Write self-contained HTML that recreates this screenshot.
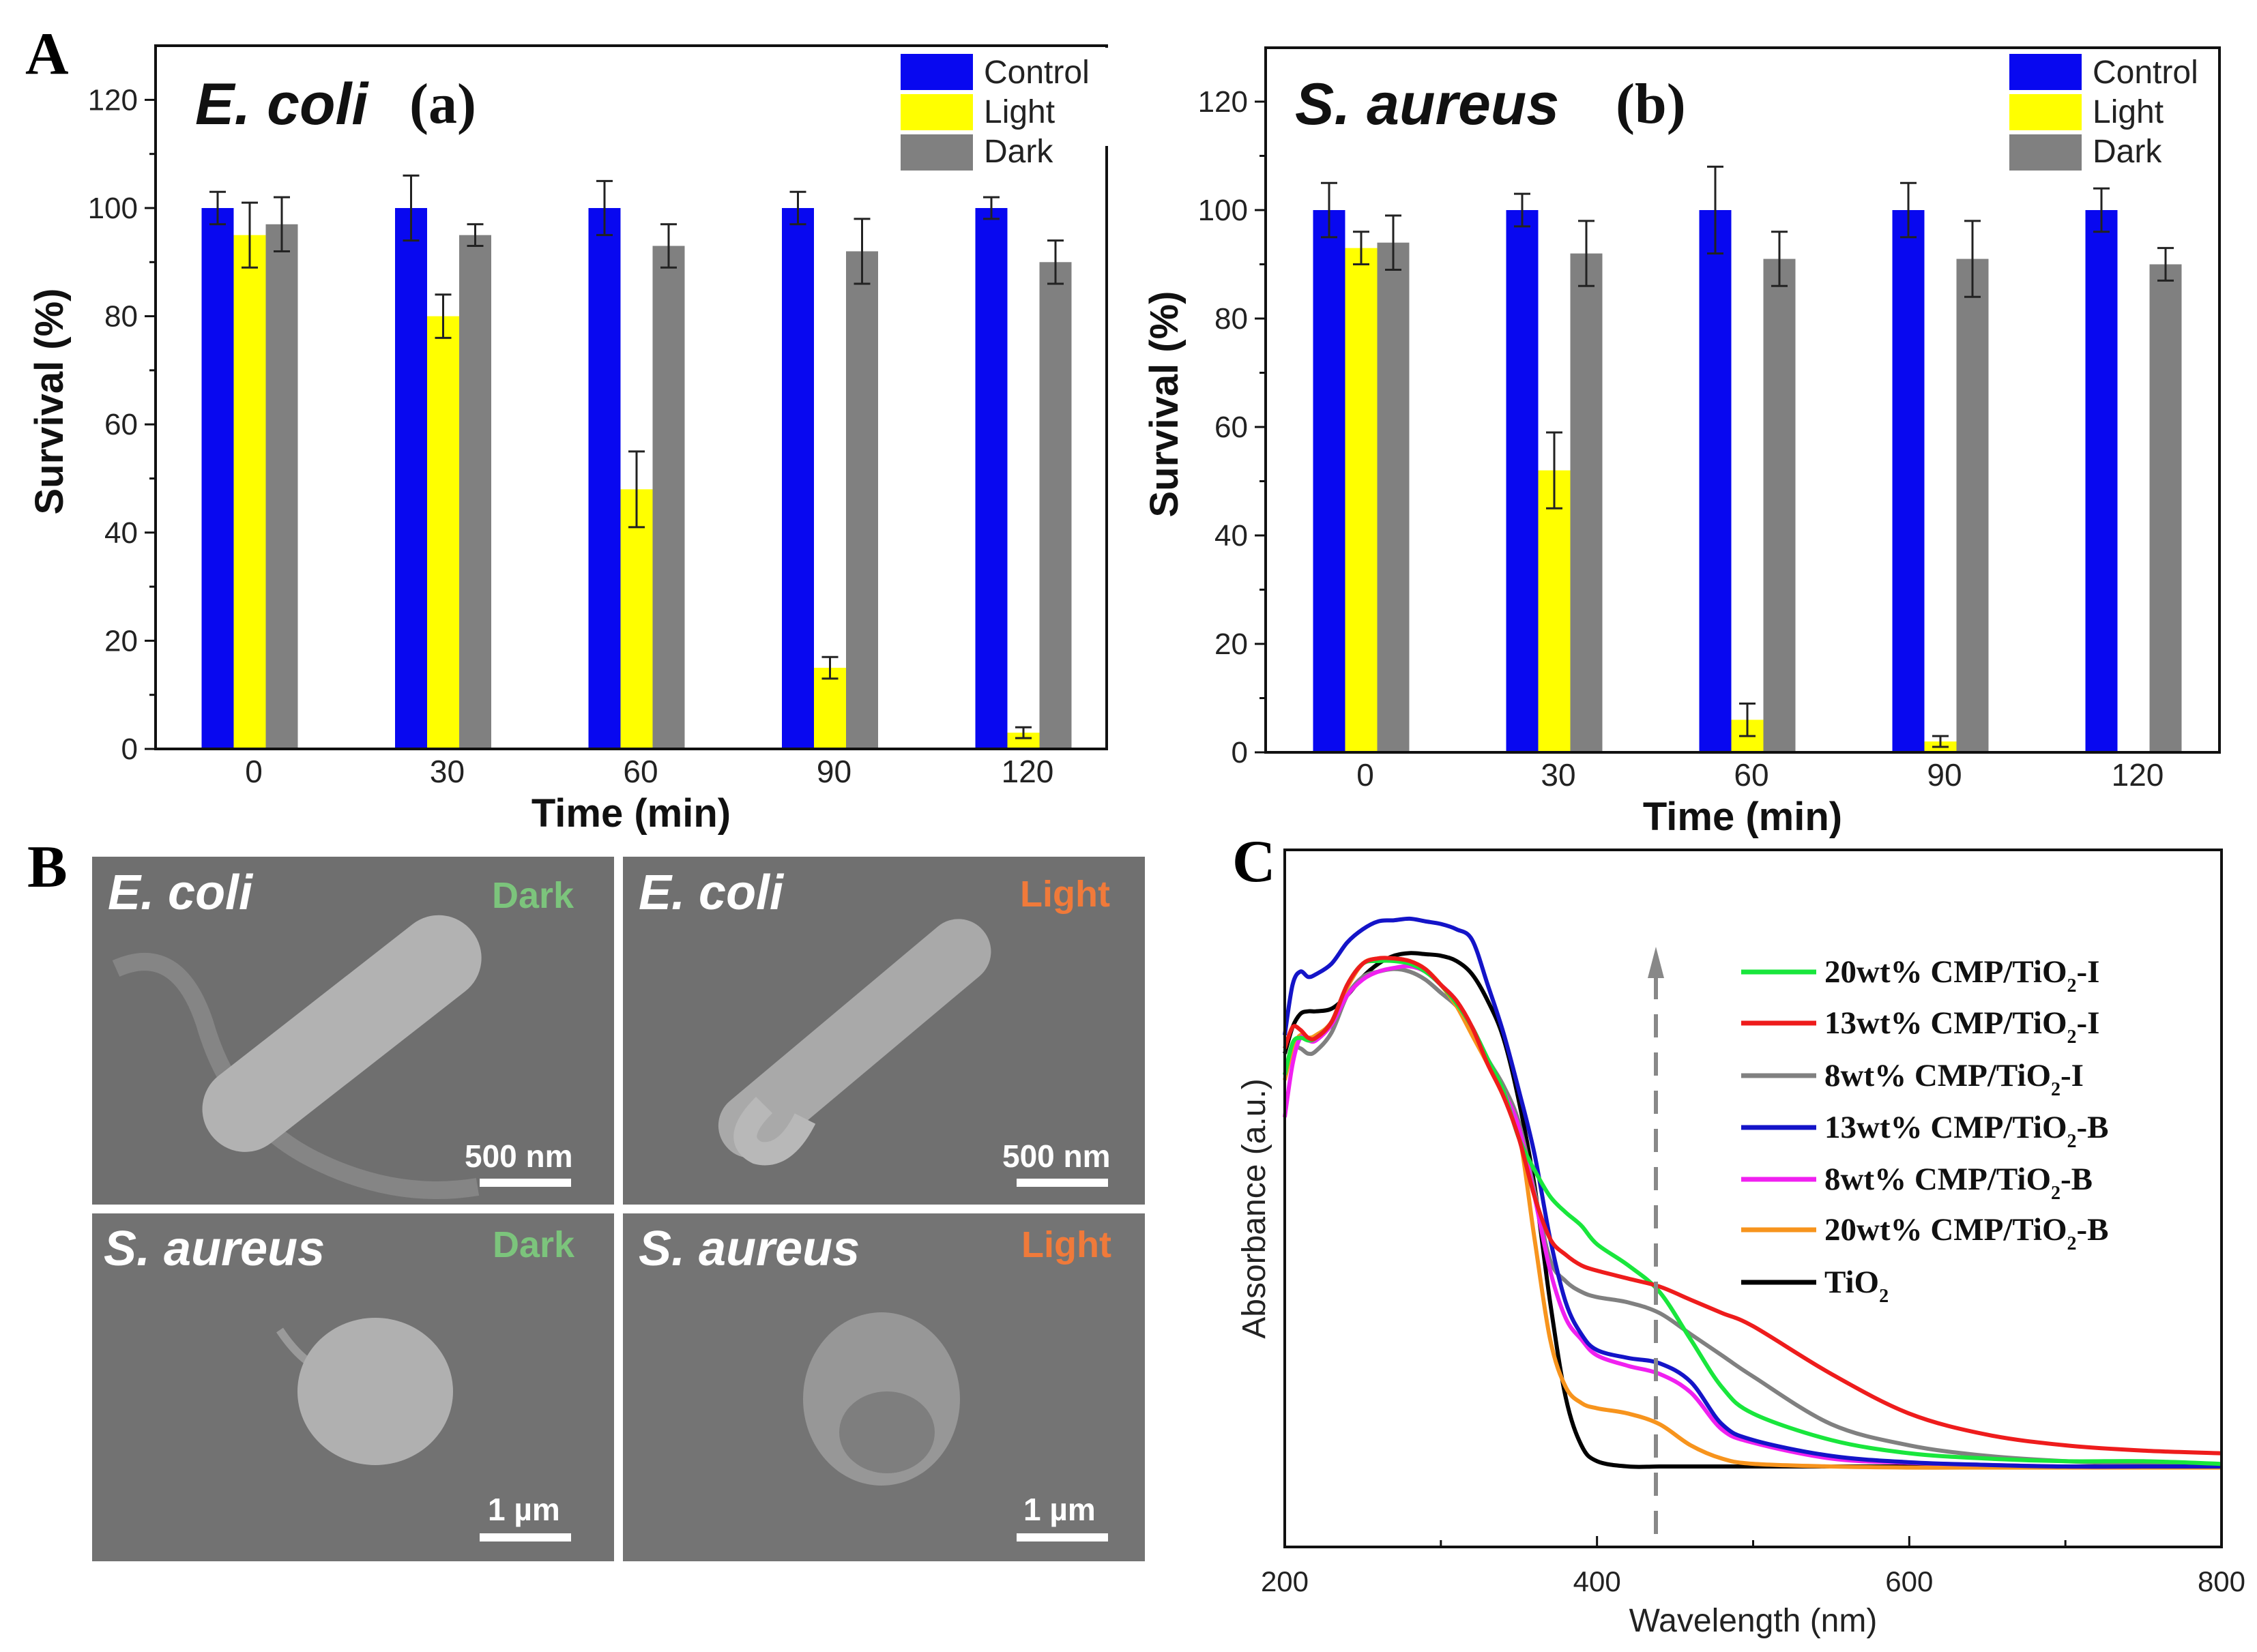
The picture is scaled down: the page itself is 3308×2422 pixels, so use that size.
<!DOCTYPE html>
<html><head><meta charset="utf-8"><style>
html,body{margin:0;padding:0;background:#fff;overflow:hidden;}
svg{display:block;}
text{font-family:"Liberation Sans",sans-serif;}
.serif{font-family:"Liberation Serif",serif;}
</style></head><body>
<svg id="fig" width="3308" height="2422" viewBox="0 0 3308 2422" xmlns="http://www.w3.org/2000/svg">
<rect x="0" y="0" width="3308" height="2422" fill="#fff"/>
<text class="serif" x="37" y="108" font-size="88" font-weight="bold">A</text>
<text class="serif" x="40" y="1300" font-size="88" font-weight="bold">B</text>
<text class="serif" x="1806" y="1292" font-size="88" font-weight="bold">C</text>

<!-- SEM images -->
<g>
  <g>
    <rect x="135" y="1256" width="765" height="510" fill="#6f6f6f"/>
    <path d="M170 1420 Q260 1380 300 1500 Q340 1640 460 1700 Q580 1760 700 1740" stroke="#858585" stroke-width="26" fill="none"/>
    <rect x="259" y="1453" width="485" height="125" rx="62" fill="#b2b2b2" transform="rotate(-38 501 1516)"/>
    <text x="158" y="1333" font-size="72" font-style="italic" font-weight="bold" fill="#fff">E. coli</text>
    <text x="721" y="1331" font-size="54" font-weight="bold" fill="#7cc47c">Dark</text>
    <text x="681" y="1711" font-size="46" font-weight="bold" fill="#fff">500 nm</text>
    <rect x="703" y="1728" width="134" height="12" fill="#fff"/>
  </g>
  <g>
    <rect x="913" y="1256" width="765" height="510" fill="#707070"/>
    <rect x="1007" y="1475" width="492" height="95" rx="47" fill="#a9a9a9" transform="rotate(-40 1253 1523)"/>
    <path d="M1120 1620 Q1070 1670 1110 1690 Q1150 1700 1180 1640" stroke="#b8b8b8" stroke-width="34" fill="none"/>
    <text x="936" y="1333" font-size="72" font-style="italic" font-weight="bold" fill="#fff">E. coli</text>
    <text x="1495" y="1329" font-size="54" font-weight="bold" fill="#f07a3a">Light</text>
    <text x="1469" y="1711" font-size="46" font-weight="bold" fill="#fff">500 nm</text>
    <rect x="1490" y="1728" width="134" height="12" fill="#fff"/>
  </g>
  <g>
    <rect x="135" y="1779" width="765" height="510" fill="#727272"/>
    <path d="M410 1950 Q450 2010 490 2010" stroke="#9a9a9a" stroke-width="12" fill="none"/>
    <ellipse cx="550" cy="2040" rx="114" ry="108" fill="#b0b0b0"/>
    <text x="152" y="1855" font-size="72" font-style="italic" font-weight="bold" fill="#fff">S. aureus</text>
    <text x="722" y="1843" font-size="54" font-weight="bold" fill="#7cc47c">Dark</text>
    <text x="715" y="2229" font-size="46" font-weight="bold" fill="#fff">1 µm</text>
    <rect x="703" y="2248" width="134" height="12" fill="#fff"/>
  </g>
  <g>
    <rect x="913" y="1779" width="765" height="510" fill="#747474"/>
    <ellipse cx="1292" cy="2051" rx="115" ry="127" fill="#979797"/>
    <ellipse cx="1300" cy="2100" rx="70" ry="60" fill="#7e7e7e"/>
    <text x="936" y="1855" font-size="72" font-style="italic" font-weight="bold" fill="#fff">S. aureus</text>
    <text x="1497" y="1843" font-size="54" font-weight="bold" fill="#f07a3a">Light</text>
    <text x="1500" y="2229" font-size="46" font-weight="bold" fill="#fff">1 µm</text>
    <rect x="1490" y="2248" width="134" height="12" fill="#fff"/>
  </g>
</g>
<g id="chartA"></g>
<g id="chartB"></g>
<g id="chartC"></g>
</svg>
<script>
// ---- Bar chart data ----
const timeCats = ["0","30","60","90","120"];
const yTicksBar = [0,20,40,60,80,100,120];
const ecoliControl = [100,100,100,100,100];
const ecoliControlErr = [3,6,5,3,2];
const ecoliLight = [95,80,48,15,3];
const ecoliLightErr = [6,4,7,2,1];
const ecoliDark = [97,95,93,92,90];
const ecoliDarkErr = [5,2,4,6,4];
const saureusControl = [100,100,100,100,100];
const saureusControlErr = [5,3,8,5,4];
const saureusLight = [93,52,6,2,0];
const saureusLightErr = [3,7,3,1,0];
const saureusDark = [94,92,91,91,90];
const saureusDarkErr = [5,6,5,7,3];
const seriesNames = ["Control","Light","Dark"];

// ---- Absorbance data ----
const wavelengths = [200,205,210,215,220,230,240,250,260,270,280,290,300,310,320,330,340,350,360,370,380,390,400,420,440,460,480,500,550,600,650,700,750,800];
const absGreen20I = [892,952,962,957,962,992,1062,1102,1107,1107,1102,1087,1062,1027,982,922,862,772,712,662,632,607,572,532,482,392,302,252,202,177,167,162,162,157];
const absRed13I = [942,982,977,962,962,992,1062,1102,1112,1112,1107,1092,1062,1032,982,912,852,772,662,582,552,532,522,507,492,467,442,417,327,252,212,192,182,177];
const absGray8I = [892,942,942,932,937,972,1042,1077,1087,1092,1087,1072,1047,1022,982,922,872,802,672,542,502,482,472,462,442,402,362,322,232,192,172,162,157,152];
const absBlue13B = [967,1062,1087,1077,1082,1102,1142,1167,1182,1184,1187,1182,1177,1167,1147,1062,972,862,742,582,462,402,372,357,347,312,232,202,172,160,155,152,152,152];
const absPink8B = [812,912,962,957,957,987,1042,1072,1087,1094,1097,1087,1062,1032,982,922,862,792,662,522,432,392,362,342,327,292,222,197,167,159,155,152,152,152];
const absOrange20B = [882,942,967,962,967,992,1057,1102,1112,1112,1107,1092,1062,1022,967,912,852,782,582,392,302,272,262,252,232,192,167,157,152,150,150,150,150,150];
const absTiO2 = [932,982,1007,1012,1012,1017,1042,1077,1102,1117,1122,1120,1117,1107,1082,1032,962,842,682,462,282,192,162,152,152,152,152,152,152,152,152,152,152,152];
const xTicksC = [200,400,600,800];
const legendLabelsC = ["20wt% CMP/TiO","13wt% CMP/TiO","8wt% CMP/TiO","13wt% CMP/TiO","8wt% CMP/TiO","20wt% CMP/TiO","TiO"];
const legendSuffixC = ["-I","-I","-I","-B","-B","-B",""];

const NS = "http://www.w3.org/2000/svg";
function mk(tag, attrs, parent){const e=document.createElementNS(NS,tag);for(const k in attrs)e.setAttribute(k,attrs[k]);parent.appendChild(e);return e;}

function barChart(g, cfg){
  const L=cfg.left,T=cfg.top,R=cfg.right,B=cfg.bottom;
  const y=v=>B-(v)*(B-cfg.y100)/100;
  const x=i=>cfg.x0+i*cfg.dx;
  const colors=["#0808f0","#ffff00","#808080"];
  const data=[cfg.control,cfg.light,cfg.dark], errs=[cfg.controlErr,cfg.lightErr,cfg.darkErr];
  const bw=47;
  for(let s=0;s<3;s++){
    for(let i=0;i<timeCats.length;i++){
      const cx=x(i)+(s-1)*bw-6;
      const r=mk("rect",{x:cx-bw/2,y:y(data[s][i]),width:bw,height:B-y(data[s][i]),fill:colors[s]},g);
      
      
      if(errs[s][i]>0){
        const e=mk("path",{d:`M${cx} ${y(data[s][i]+errs[s][i])}V${y(data[s][i]-errs[s][i])}M${cx-12} ${y(data[s][i]+errs[s][i])}h24M${cx-12} ${y(data[s][i]-errs[s][i])}h24`,stroke:"#222",'stroke-width':3,fill:"none"},g);
        
        
      }
    }
  }
  const ax=mk("rect",{x:L,y:T,width:R-L,height:B-T,fill:"none",stroke:"#111",'stroke-width':4},g);
  
  
  for(let v=0;v<=120;v+=10){
    mk("line",{x1:L,x2:L-(v%20===0?16:9),y1:y(v),y2:y(v),stroke:"#111",'stroke-width':3},g);
  }
  yTicksBar.forEach(v=>{const t=mk("text",{x:L-26,y:y(v)+15,'font-size':44,'text-anchor':'end',fill:"#222"},g);t.textContent=v;
    
    });
  timeCats.forEach((c,i)=>{const t=mk("text",{x:x(i),y:B+49,'font-size':46,'text-anchor':'middle',fill:"#222"},g);t.textContent=c;
    
    });
  const xt=mk("text",{x:(L+R)/2,y:B+114,'font-size':58,'font-weight':'bold','text-anchor':'middle',fill:"#111"},g);xt.textContent="Time (min)";
  
  
  const yt=mk("text",{x:0,y:0,'font-size':58,'font-weight':'bold','text-anchor':'middle',fill:"#111",transform:`translate(${cfg.ytx} ${(T+B)/2+6}) rotate(-90)`},g);yt.textContent="Survival (%)";
  
  
  if(cfg.legendBg){mk("rect",{x:cfg.legX-20,y:70,width:R-cfg.legX+30,height:144,fill:"#fff"},g);}
  seriesNames.forEach((n,s)=>{
    const r=mk("rect",{x:cfg.legX,y:79+s*59,width:106,height:53,fill:colors[s]},g);
    
    
    const t=mk("text",{x:cfg.legX+122,y:122+s*58,'font-size':48,fill:"#222"},g);t.textContent=n;
    
    
  });
  const tt=mk("text",{x:cfg.titleX,y:182,'font-size':86,'font-weight':'bold','font-style':'italic',fill:"#111"},g);tt.textContent=cfg.title;
  
  
  const tl=mk("text",{x:cfg.tagX,y:180,'font-size':84,'font-weight':'bold',fill:"#111",class:"serif"},g);tl.textContent=cfg.tag;
  
  
}
const gA=document.getElementById("chartA");


barChart(gA,{left:228,top:67,right:1622,bottom:1098,y100:305,x0:372,dx:283.5,control:ecoliControl,controlErr:ecoliControlErr,light:ecoliLight,lightErr:ecoliLightErr,dark:ecoliDark,darkErr:ecoliDarkErr,ytx:92,legX:1320,legendBg:true,title:"E. coli",titleX:286,tag:"(a)",tagX:600});
const gB=document.getElementById("chartB");


barChart(gB,{left:1855,top:70,right:3253,bottom:1103,y100:308,x0:2001,dx:283,control:saureusControl,controlErr:saureusControlErr,light:saureusLight,lightErr:saureusLightErr,dark:saureusDark,darkErr:saureusDarkErr,ytx:1726,legX:2945,legendBg:false,title:"S. aureus",titleX:1898,tag:"(b)",tagX:2368});

// ---- Absorbance chart ----
(function(){
  const g=document.getElementById("chartC");
  
  
  const L=1883,T=1246,R=3256,B=2268;
  const x=w=>L+(w-200)*(R-L)/600;
  const y=a=>B-a*(B-T)/1317;
  const series=[[absGreen20I,"#19e63c"],[absRed13I,"#ee1c1c"],[absGray8I,"#808080"],[absBlue13B,"#1414c8"],[absPink8B,"#f020f0"],[absOrange20B,"#f7941d"],[absTiO2,"#000"]];
  [6,2,5,4,3,0,1].forEach(si=>{
    const d=series[si][0];
    const pts=wavelengths.map((w,i)=>[x(w),y(d[i])]);
    let p=`M${pts[0][0]} ${pts[0][1]}`;
    for(let i=0;i<pts.length-1;i++){
      const p0=pts[Math.max(i-1,0)],p1=pts[i],p2=pts[i+1],p3=pts[Math.min(i+2,pts.length-1)];
      p+=`C${p1[0]+(p2[0]-p0[0])/6} ${p1[1]+(p2[1]-p0[1])/6} ${p2[0]-(p3[0]-p1[0])/6} ${p2[1]-(p3[1]-p1[1])/6} ${p2[0]} ${p2[1]}`;
    }
    const e=mk("path",{d:p,stroke:series[si][1],'stroke-width':6,fill:"none"},g);
    
    
  });
  const fr=mk("rect",{x:L,y:T,width:R-L,height:B-T,fill:"none",stroke:"#111",'stroke-width':4},g);
  
  
  for(let w=200;w<=800;w+=100){mk("line",{x1:x(w),x2:x(w),y1:B,y2:B-(w%200===0?16:10),stroke:"#111",'stroke-width':3},g);}
  xTicksC.forEach(w=>{const t=mk("text",{x:x(w),y:2333,'font-size':42,'text-anchor':'middle',fill:"#222"},g);t.textContent=w;
    
    });
  const xt=mk("text",{x:(L+R)/2,y:2392,'font-size':48,'text-anchor':'middle',fill:"#222"},g);xt.textContent="Wavelength (nm)";
  
  
  const yt=mk("text",{x:0,y:0,'font-size':48,'text-anchor':'middle',fill:"#222",transform:`translate(1854 1772) rotate(-90)`},g);yt.textContent="Absorbance (a.u.)";
  
  
  const ar=mk("path",{d:`M2427 2249V1430`,stroke:"#888",'stroke-width':6,'stroke-dasharray':'34 22',fill:"none"},g);
  
  
  const ah=mk("path",{d:`M2415 1434L2427 1388L2439 1434Z`,fill:"#888"},g);
  
  
  const rows=[1425,1500,1577,1653,1729,1803,1880];
  legendLabelsC.forEach((lab,i)=>{
    const ln=mk("line",{x1:2552,x2:2662,y1:rows[i],y2:rows[i],stroke:series[i][1],'stroke-width':7},g);
    
    
    const t=mk("text",{x:2674,y:rows[i]+15,'font-size':47,'font-weight':'bold',fill:"#111",class:"serif"},g);
    
    
    t.appendChild(document.createTextNode(lab));
    const sub=mk("tspan",{'font-size':28,dy:14},t);sub.textContent="2";
    const rest=mk("tspan",{dy:-14},t);rest.textContent=legendSuffixC[i];
  });
})();
</script>
</body></html>
